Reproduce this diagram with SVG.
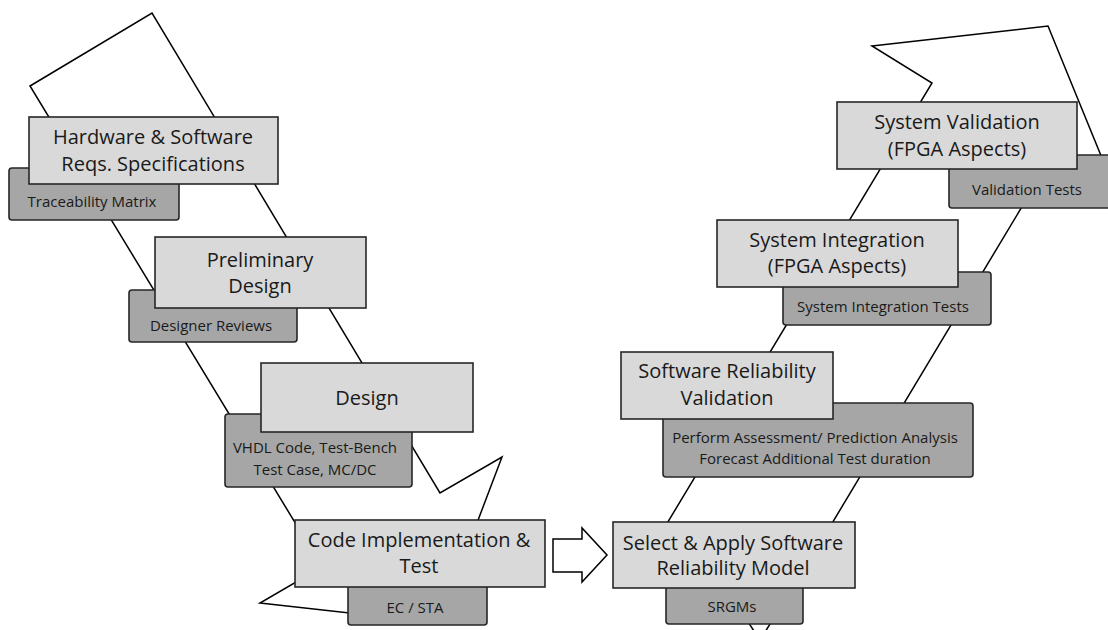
<svg xmlns="http://www.w3.org/2000/svg" width="1108" height="630" viewBox="0 0 1108 630">
<style>
.rib{fill:#ffffff;stroke:#000;stroke-width:1.5;stroke-linejoin:miter}
.lb{fill:#d9d9d9;stroke:#262626;stroke-width:1.6}
.db{fill:#a6a6a6;stroke:#262626;stroke-width:1.6}
.t{font-family:"Open Sans","Liberation Sans",sans-serif;font-size:20px;fill:#1a1a1a;text-anchor:middle}
.s{font-family:"Open Sans","Liberation Sans",sans-serif;font-size:15px;fill:#1a1a1a;text-anchor:middle}
.arr{fill:#fff;stroke:#000;stroke-width:1.5}
</style>
<rect width="1108" height="630" fill="#fff"/>
<g id="connectors">
<polygon class="rib" points="30,86 152,13 440,493 502,457 439,623 260,603 322,567"/>
<polygon class="rib" points="872,46 1048,26 1113,185 1023,205 810,560 760,640 707,560 645,560 932,83"/>
<polygon class="arr" points="553,539 582,539 582,528 607,555 582,582 582,572 553,572"/>
</g>
<g id="hw">
<rect class="db" x="9" y="168" width="170" height="52" rx="3"/>
<rect class="lb" x="29" y="117" width="249" height="67"/>
<text class="t" x="153" y="144">Hardware &amp; Software</text>
<text class="t" x="153" y="171">Reqs. Specifications</text>
<text class="s" x="92" y="207">Traceability Matrix</text>
</g>
<g id="prelim">
<rect class="db" x="129" y="290" width="168" height="52" rx="3"/>
<rect class="lb" x="155" y="237" width="211" height="71"/>
<text class="t" x="260" y="267">Preliminary</text>
<text class="t" x="260" y="293">Design</text>
<text class="s" x="211" y="331">Designer Reviews</text>
</g>
<g id="design">
<rect class="db" x="225" y="414" width="187" height="73" rx="3"/>
<rect class="lb" x="261" y="363" width="212" height="69"/>
<text class="t" x="367" y="405">Design</text>
<text class="s" x="315" y="453">VHDL Code, Test-Bench</text>
<text class="s" x="315" y="475">Test Case, MC/DC</text>
</g>
<g id="code">
<rect class="db" x="348" y="585" width="139" height="40" rx="3"/>
<rect class="lb" x="295" y="520" width="250" height="67"/>
<text class="t" x="419" y="547">Code Implementation &amp;</text>
<text class="t" x="419" y="573">Test</text>
<text class="s" x="415" y="613">EC / STA</text>
</g>
<g id="select">
<rect class="db" x="666" y="586" width="137" height="38" rx="3"/>
<rect class="lb" x="613" y="522" width="242" height="66"/>
<text class="t" x="733" y="550">Select &amp; Apply Software</text>
<text class="t" x="733" y="575">Reliability Model</text>
<text class="s" x="732" y="612">SRGMs</text>
</g>
<g id="swrel">
<rect class="db" x="663" y="403" width="310" height="74" rx="3"/>
<rect class="lb" x="621" y="352" width="212" height="67"/>
<text class="t" x="727" y="378">Software Reliability</text>
<text class="t" x="727" y="405">Validation</text>
<text class="s" x="815" y="443">Perform Assessment/ Prediction Analysis</text>
<text class="s" x="815" y="464">Forecast Additional Test duration</text>
</g>
<g id="sysint">
<rect class="db" x="783" y="272" width="208" height="53" rx="3"/>
<rect class="lb" x="717" y="220" width="241" height="67"/>
<text class="t" x="837" y="247">System Integration</text>
<text class="t" x="837" y="273">(FPGA Aspects)</text>
<text class="s" x="883" y="312">System Integration Tests</text>
</g>
<g id="sysval">
<rect class="db" x="949" y="155" width="165" height="53" rx="3"/>
<rect class="lb" x="837" y="102" width="240" height="67"/>
<text class="t" x="957" y="129">System Validation</text>
<text class="t" x="957" y="156">(FPGA Aspects)</text>
<text class="s" x="1027" y="195">Validation Tests</text>
</g>
</svg>
